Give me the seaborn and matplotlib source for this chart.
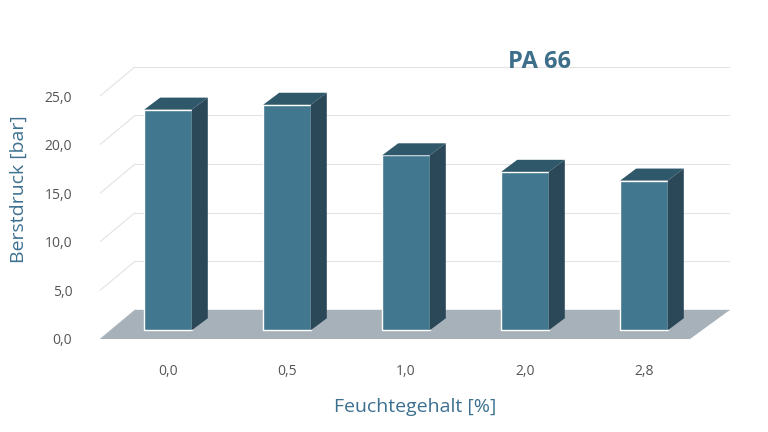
import matplotlib
matplotlib.use("Agg")
import matplotlib.pyplot as plt
import seaborn as sns
import pandas as pd
from matplotlib.patches import Polygon

categories = ["0,0", "0,5", "1,0", "2,0", "2,8"]
values = [22.7, 23.2, 18.0, 16.3, 15.4]
yticks = [0, 5, 10, 15, 20, 25]
yticklabels = ["0,0", "5,0", "10,0", "15,0", "20,0", "25,0"]

sns.set_theme(style="white")
plt.rcParams['font.family'] = ['Open Sans', 'DejaVu Sans']
fig = plt.figure(figsize=(7.68, 4.32), dpi=100)
W, H = 768, 432
ax = fig.add_axes([100/W, (H-339)/H, (730-100)/W, (339-40)/H])
x0, x1 = (100-168)/119, (730-168)/119
y1 = (339-40)/9.72
ax.set_xlim(x0, x1); ax.set_ylim(0, y1)
dx, dy = 16/119, 12/9.72

# back wall grid lines
gx, gy = 35/119, 3.0
for t in yticks:
    ax.plot([x0+gx, x1], [t+gy, t+gy], color="#e3e3e3", lw=0.8, zorder=0)
    ax.plot([x0, x0+gx], [t, t+gy], color="#e3e3e3", lw=0.8, zorder=0)
# floor
ax.add_patch(Polygon([(x0, 0), ((690-168)/119, 0), (x1, gy), (x0+gx, gy)],
                     closed=True, color="#a7b1b9", zorder=1, lw=0))

df = pd.DataFrame({"Feuchte": categories, "Druck": values})
sns.barplot(data=df, x="Feuchte", y="Druck", color="#41778f", saturation=1,
            width=0.4, ax=ax, zorder=3)
ax.set_xlim(x0, x1); ax.set_ylim(0, y1)
base = 0.9
for p in ax.patches:
    if not hasattr(p, "get_width") or p.get_height() <= 0:
        continue
    l, w, h = p.get_x(), p.get_width(), p.get_height()
    p.set_y(base); p.set_height(h - 0 if False else h)
    top = base + h
    ax.add_patch(Polygon([(l, top), (l+w, top), (l+w+dx, top+dy), (l+dx, top+dy)],
                         closed=True, color="#2f586b", zorder=3, lw=0))
    ax.add_patch(Polygon([(l+w, base), (l+w+dx, base+dy), (l+w+dx, top+dy), (l+w, top)],
                         closed=True, color="#2a4858", zorder=3, lw=0))

ax.set_yticks(yticks)
ax.set_yticklabels(yticklabels, color="#555555", fontsize=10)
ax.tick_params(axis="y", length=0, pad=20)
ax.tick_params(axis="x", length=0, pad=18, labelcolor="#555555", labelsize=10)
for s in ax.spines.values():
    s.set_visible(False)
ax.set_xlabel("Feuchtegehalt [%]", fontsize=14, color="#3d7090", labelpad=14)
ax.set_ylabel("Berstdruck [bar]", fontsize=14, color="#3d7090", labelpad=12)
fig.text(540/W, 1-62/H, "PA 66", ha="center", va="center", fontsize=17,
         fontweight="bold", color="#3d6e8a")
fig.savefig("out.png", dpi=100)
